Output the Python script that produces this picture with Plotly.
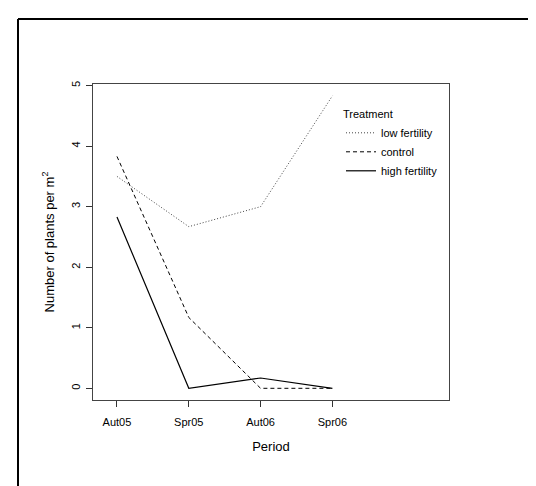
import plotly.graph_objects as go

periods = ["Aut05", "Spr05", "Aut06", "Spr06"]
positions = [1, 2, 3, 4]
low_fertility = [3.50, 2.67, 3.00, 4.83]
control = [3.83, 1.17, 0.00, 0.00]
high_fertility = [2.83, 0.00, 0.17, 0.00]
y_ticks = [0, 1, 2, 3, 4, 5]

FONT = "Liberation Sans, Arial, sans-serif"

fig = go.Figure()
fig.add_trace(go.Scatter(x=positions, y=low_fertility, mode="lines", name="low fertility",
                         line=dict(color="#444444", width=1, dash="1px,2px")))
fig.add_trace(go.Scatter(x=positions, y=control, mode="lines", name="control",
                         line=dict(color="#000000", width=1, dash="4px,3px")))
fig.add_trace(go.Scatter(x=positions, y=high_fertility, mode="lines", name="high fertility",
                         line=dict(color="#000000", width=1.2)))

L, R, T, B = 85, 95, 76, 94
W, H = 536, 486
pw, ph = W - L - R, H - T - B

def px(xp):
    return (xp - L) / pw

def py(yp):
    return (H - B - yp) / ph

fig.update_layout(
    width=W, height=H,
    margin=dict(l=L, r=R, t=T, b=B, pad=0),
    paper_bgcolor="white", plot_bgcolor="white",
    font=dict(family=FONT, size=11, color="black"),
    showlegend=True,
    legend=dict(
        x=px(333), y=py(96), xanchor="left", yanchor="top",
        bgcolor="rgba(0,0,0,0)", borderwidth=0,
        title=dict(text="Treatment", font=dict(size=11)),
        font=dict(size=11), tracegroupgap=0,
    ),
    xaxis=dict(
        range=[0.666, 5.624], tickvals=positions, ticktext=periods,
        showline=True, mirror=True, linecolor="#444444", linewidth=1,
        ticks="outside", ticklen=6, tickcolor="#333333",
        showgrid=False, zeroline=False,
        title=dict(text="Period", standoff=14),
        ticklabelstandoff=6,
    ),
    yaxis=dict(
        range=[-0.193, 5.026], tickvals=y_ticks,
        showline=True, mirror=True, linecolor="#444444", linewidth=1,
        ticks="outside", ticklen=6, tickcolor="#333333",
        showgrid=False, zeroline=False, tickangle=-90,
        title=dict(text="Number of plants per m<sup>2</sup>", standoff=12),
        ticklabelstandoff=2,
    ),
    shapes=[
        dict(type="line", xref="paper", yref="paper", x0=px(10), x1=px(540), y0=py(11), y1=py(11),
             line=dict(color="black", width=2)),
        dict(type="line", xref="paper", yref="paper", x0=px(10), x1=px(10), y0=py(11), y1=py(490),
             line=dict(color="black", width=2)),
    ],
)

fig.write_html("out.html")
